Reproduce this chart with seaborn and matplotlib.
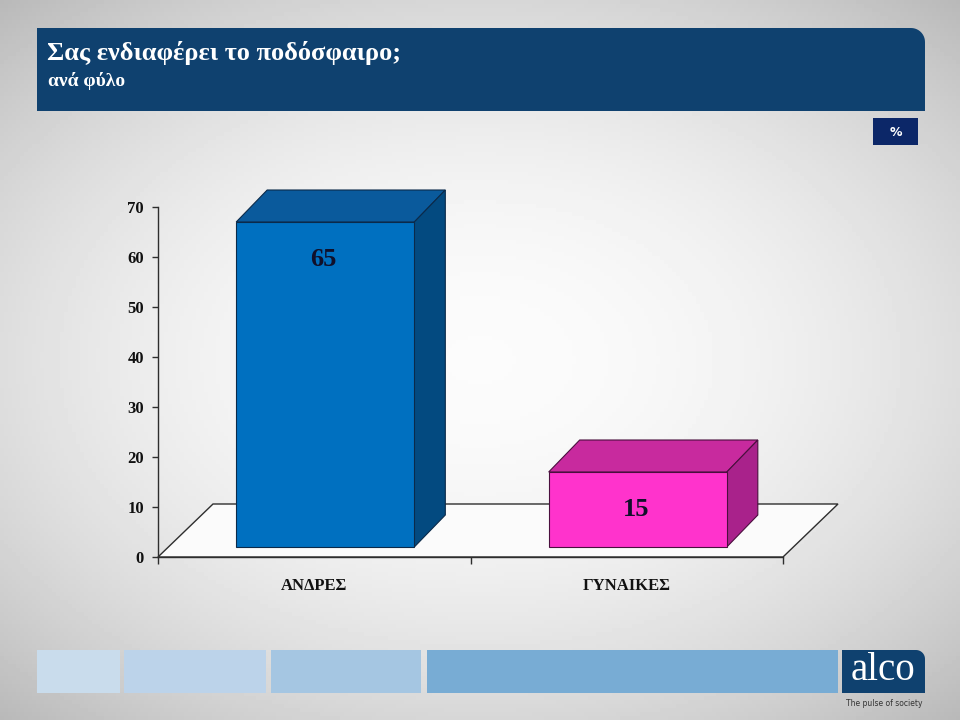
import numpy as np
import seaborn as sns
import matplotlib.pyplot as plt
from matplotlib.patches import Polygon, Rectangle
from matplotlib.transforms import ScaledTranslation

# data
groups = ["ΑΝΔΡΕΣ", "ΓΥΝΑΙΚΕΣ"]
values = [65, 15]
front_colors = ["#0070c0", "#ff33cc"]
top_colors = ["#0a5a9c", "#c82a9e"]
side_colors = ["#034a80", "#a9228b"]
edge_colors = ["#0b2a4a", "#4a0f3e"]
yticks = [0, 10, 20, 30, 40, 50, 60, 70]

title = "Σας ενδιαφέρει το ποδόσφαιρο;"
subtitle = "ανά φύλο"

sns.set_style("white")
plt.rcParams["font.family"] = ["Liberation Serif", "DejaVu Serif"]

fig = plt.figure(figsize=(9.6, 7.2), dpi=100)

# background with a soft vignette, in pixel coords
bg = fig.add_axes([0, 0, 1, 1], zorder=-5)
bg.set_xlim(0, 960)
bg.set_ylim(720, 0)
bg.axis("off")
xx, yy = np.meshgrid(np.linspace(-1, 1, 240), np.linspace(-1, 1, 180))
shade = 0.985 - 0.13 * (xx ** 2 * 0.9 + yy ** 2 * 1.1)
bg.imshow(shade, cmap="gray", vmin=0, vmax=1, extent=(0, 960, 720, 0), aspect="auto")


def round_tr_box(x0, y0, x1, y1, r, color, ax):
    # rectangle with only the top-right corner rounded
    ang = np.linspace(np.pi / 2, 0, 12)
    arc = [(x1 - r + r * np.cos(a), y0 + r - r * np.sin(a)) for a in ang]
    pts = [(x0, y1), (x0, y0)] + arc + [(x1, y1)]
    ax.add_patch(Polygon(pts, closed=True, facecolor=color, edgecolor="none"))


# header
round_tr_box(37, 28, 925, 111, 14, "#0f416f", bg)
bg.text(47, 53, title, color="white", fontsize=19, fontweight="bold", va="center", ha="left")
bg.text(48, 81, subtitle, color="white", fontsize=14, fontweight="bold", va="center", ha="left")
bg.add_patch(Rectangle((873, 118), 45, 27, facecolor="#0c2768", edgecolor="none"))
bg.text(895.5, 132, "%", color="white", fontsize=9, fontweight="bold", ha="center", va="center",
        family="DejaVu Sans")

# footer strips and logo
for (a, b, c) in [(37, 120, "#c9dcec"), (124, 266, "#bcd3ea"), (271, 421, "#a5c6e2"), (427, 838, "#78acd4")]:
    bg.add_patch(Rectangle((a, 650), b - a, 43, facecolor=c, edgecolor="none"))
round_tr_box(842, 650, 925, 693, 9, "#0f416f", bg)
bg.text(883, 671, "alco", color="white", fontsize=28, ha="center", va="center")
bg.text(884, 703, "The pulse of society", color="#333333", fontsize=5.5, ha="center", va="center",
        family="DejaVu Sans")

# chart axes
ax = fig.add_axes([158 / 960, 163 / 720, 625 / 960, 350 / 720])
ax.patch.set_alpha(0)
sns.barplot(x=groups, y=values, hue=groups, palette=front_colors, width=0.57, ax=ax,
            legend=False, edgecolor="none", saturation=1)
ax.set_xlim(-0.5, 1.5)
ax.set_ylim(0, 70)

px_x = 625 / 2.0   # pixels per category
px_y = 350 / 70.0  # pixels per unit

front_dx, front_dy = 11, 10   # bar front face pushed into the floor
depth_dx, depth_dy = 31, 32   # bar depth
floor_dx, floor_dy = 55, 53   # floor depth

# floor
floor = Polygon([(-0.5, 0), (1.5, 0), (1.5 + floor_dx / px_x, floor_dy / px_y),
                 (-0.5 + floor_dx / px_x, floor_dy / px_y)], closed=True,
                facecolor="#fbfbfb", edgecolor="#2e2e2e", linewidth=1.0, clip_on=False, zorder=0.5)
ax.add_patch(floor)

shift = ScaledTranslation(front_dx / 100, front_dy / 100, fig.dpi_scale_trans)
ddx, ddy = depth_dx / px_x, depth_dy / px_y
for i, p in enumerate(ax.patches[:len(values)]):
    if p is floor:
        continue
    x0 = p.get_x()
    w = p.get_width()
    h = p.get_height()
    p.set_transform(ax.transData + shift)
    p.set_edgecolor(edge_colors[i])
    p.set_linewidth(0.8)
    p.set_zorder(3)
    p.set_clip_on(False)
    top = Polygon([(x0, h), (x0 + w, h), (x0 + w + ddx, h + ddy), (x0 + ddx, h + ddy)],
                  closed=True, facecolor=top_colors[i], edgecolor=edge_colors[i], linewidth=0.8,
                  transform=ax.transData + shift, zorder=2, clip_on=False)
    side = Polygon([(x0 + w, 0), (x0 + w + ddx, ddy), (x0 + w + ddx, h + ddy), (x0 + w, h)],
                   closed=True, facecolor=side_colors[i], edgecolor=edge_colors[i], linewidth=0.8,
                   transform=ax.transData + shift, zorder=2, clip_on=False)
    ax.add_patch(top)
    ax.add_patch(side)
    ax.annotate(str(values[i]), xy=(x0 + w / 2, h), xytext=((front_dx - 2) * 0.72, (front_dy - 37) * 0.72),
                textcoords="offset points", ha="center", va="center", fontsize=19,
                fontweight="bold", color="#10102a", zorder=5)

# axes styling
for s in ["top", "right"]:
    ax.spines[s].set_visible(False)
for s in ["left", "bottom"]:
    ax.spines[s].set_color("#2e2e2e")
    ax.spines[s].set_linewidth(1.0)
    ax.spines[s].set_zorder(1)
ax.set_yticks(yticks)
ax.set_xticks([0, 1])
ax.set_xticklabels(groups)
ax.set_xticks([-0.5, 0.5, 1.5], minor=True)
ax.tick_params(axis="y", left=True, length=4, width=1, color="#2e2e2e", pad=6, labelsize=12)
ax.tick_params(axis="x", which="major", bottom=False, length=0, pad=15, labelsize=12)
ax.tick_params(axis="x", which="minor", bottom=True, length=5, width=1, color="#2e2e2e")
for lab in ax.get_yticklabels() + ax.get_xticklabels():
    lab.set_fontweight("bold")
    lab.set_color("#111111")
ax.set_xlabel("")
ax.set_ylabel("")

fig.savefig("out.png", dpi=100)
